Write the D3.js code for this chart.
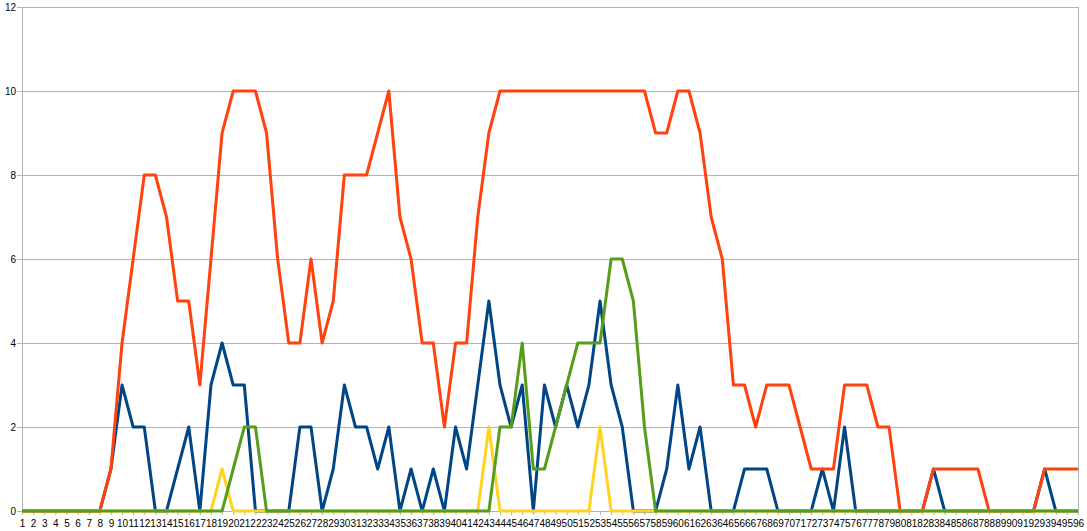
<!DOCTYPE html>
<html>
<head>
<meta charset="utf-8">
<script src="https://cdn.jsdelivr.net/npm/d3@7"></script>
<style>
  html, body { margin: 0; padding: 0; background: #fff; }
  svg text { font-family: "Liberation Sans", Arial, sans-serif; }
</style>
</head>
<body>
<svg id="chart" width="1087" height="531"></svg>
<script>
const categories = d3.range(1, 97).map(String);
const yTicks = [0, 2, 4, 6, 8, 10, 12];

const blueValues = [0,0,0,0,0,0,0,0,1,3,2,2,0,0,1,2,0,3,4,3,3,0,0,0,0,2,2,0,1,3,2,2,1,2,0,1,0,1,0,2,1,3,5,3,2,3,0,3,2,3,2,3,5,3,2,0,0,0,1,3,1,2,0,0,0,1,1,1,0,0,0,0,1,0,2,0,0,0,0,0,0,0,1,0,0,0,0,0,0,0,0,0,1,0,0,0];
const orangeValues = [0,0,0,0,0,0,0,0,1,4,6,8,8,7,5,5,3,6,9,10,10,10,9,6,4,4,6,4,5,8,8,8,9,10,7,6,4,4,2,4,4,7,9,10,10,10,10,10,10,10,10,10,10,10,10,10,10,9,9,10,10,9,7,6,3,3,2,3,3,3,2,1,1,1,3,3,3,2,2,0,0,0,1,1,1,1,1,0,0,0,0,0,1,1,1,1];
const yellowValues = [0,0,0,0,0,0,0,0,0,0,0,0,0,0,0,0,0,0,1,0,0,0,0,0,0,0,0,0,0,0,0,0,0,0,0,0,0,0,0,0,0,0,2,0,0,0,0,0,0,0,0,0,2,0,0,0,0,0,0,0,0,0,0,0,0,0,0,0,0,0,0,0,0,0,0,0,0,0,0,0,0,0,0,0,0,0,0,0,0,0,0,0,0,0,0,0];
const greenValues = [0,0,0,0,0,0,0,0,0,0,0,0,0,0,0,0,0,0,0,1,2,2,0,0,0,0,0,0,0,0,0,0,0,0,0,0,0,0,0,0,0,0,0,2,2,4,1,1,2,3,4,4,4,6,6,5,2,0,0,0,0,0,0,0,0,0,0,0,0,0,0,0,0,0,0,0,0,0,0,0,0,0,0,0,0,0,0,0,0,0,0,0,0,0,0,0];

const seriesList = [
  { name: "blue", values: blueValues, color: "#004586" },
  { name: "orange", values: orangeValues, color: "#ff420e" },
  { name: "yellow", values: yellowValues, color: "#ffd320" },
  { name: "green", values: greenValues, color: "#579d1c" }
];

const svg = d3.select("#chart");
const mLeft = 22, mRight = 1078, mTop = 7, mBottom = 511;

const x = d3.scalePoint().domain(categories).range([mLeft, mRight]).padding(0);
const y = d3.scaleLinear().domain([0, 12]).range([mBottom, mTop]);

// gridlines
svg.append("g")
  .selectAll("line")
  .data(yTicks)
  .join("line")
  .attr("x1", mLeft - 5).attr("x2", mRight)
  .attr("y1", d => y(d)).attr("y2", d => y(d))
  .attr("stroke", "#b3b3b3").attr("stroke-width", 1)
  .attr("shape-rendering", "crispEdges");

// right border
svg.append("line")
  .attr("x1", mRight).attr("x2", mRight).attr("y1", mTop).attr("y2", mBottom)
  .attr("stroke", "#b3b3b3").attr("shape-rendering", "crispEdges");

// y axis
const yAxis = svg.append("g").attr("transform", `translate(${mLeft},0)`)
  .call(d3.axisLeft(y).tickValues(yTicks).tickSize(5).tickSizeOuter(0).tickFormat(d3.format("d")));
yAxis.select(".domain").attr("stroke", "#b3b3b3");
yAxis.selectAll(".tick line").attr("stroke", "#b3b3b3");
yAxis.selectAll("text").attr("font-size", 10).attr("fill", "#000").attr("dx", "2");

// x axis
const xAxis = svg.append("g").attr("transform", `translate(0,${mBottom})`)
  .call(d3.axisBottom(x).tickSize(4).tickSizeOuter(0).tickPadding(5));
xAxis.select(".domain").attr("stroke", "#b3b3b3");
xAxis.selectAll(".tick line").attr("stroke", "#b3b3b3");
xAxis.selectAll("text").attr("font-size", 10).attr("fill", "#000");

// lines
const line = d3.line()
  .x((d, i) => x(categories[i]))
  .y(d => y(d));

svg.append("g")
  .selectAll("path")
  .data(seriesList)
  .join("path")
  .attr("d", s => line(s.values))
  .attr("fill", "none")
  .attr("stroke", s => s.color)
  .attr("stroke-width", 3)
  .attr("stroke-linejoin", "round");
</script>
</body>
</html>
